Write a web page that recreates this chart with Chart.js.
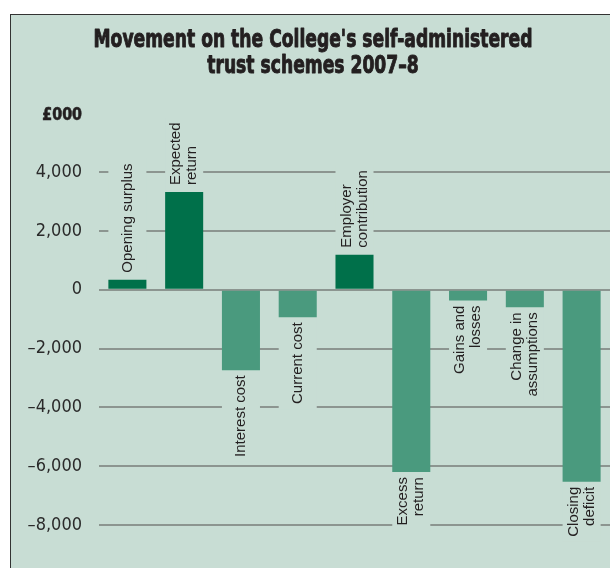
<!DOCTYPE html>
<html>
<head>
<meta charset="utf-8">
<title>Movement on the College's self-administered trust schemes 2007–8</title>
<script src="https://cdn.jsdelivr.net/npm/chart.js@4.4.1/dist/chart.umd.min.js"></script>
<style>
  html, body { margin: 0; padding: 0; background: #fff; overflow: hidden; }
  #panel {
    position: absolute; left: 10px; top: 14px;
    width: 640px; height: 600px;
    background: #c8ddd4; border: 1px solid #333;
  }
  #chartWrap { position: absolute; left: 0; top: 0; width: 610px; height: 568px; }
</style>
</head>
<body>
<div id="panel"></div>
<div id="chartWrap"><canvas id="movementChart"></canvas></div>

<script>
// Chart data (£000)
const categories = [
  'Opening surplus',
  'Expected\nreturn',
  'Interest cost',
  'Current cost',
  'Employer\ncontribution',
  'Excess\nreturn',
  'Gains and\nlosses',
  'Change in\nassumptions',
  'Closing\ndeficit'
];
const movementValues = [340, 3320, -2740, -940, 1190, -6200, -370, -600, -6530];
const tickValues = [-8000, -6000, -4000, -2000, 0, 2000, 4000];

const titleLines = ["Movement on the College's self-administered", 'trust schemes 2007–8'];
const unitLabel = '£000';

const PANEL_BG = '#c8ddd4';
const POSITIVE = '#00704a';
const NEGATIVE = '#4a9a7e';
const CONDENSED = '"DejaVu Sans Condensed", "Liberation Sans Narrow", sans-serif';

function formatTick(v) {
  const s = Math.abs(v).toLocaleString('en-GB');
  return v < 0 ? '\u2013' + s : s;
}

// Title and unit label, drawn in a heavy condensed face
const headingPlugin = {
  id: 'heading',
  afterDraw(chart) {
    const ctx = chart.ctx;
    ctx.save();
    ctx.fillStyle = '#231f20';
    ctx.strokeStyle = '#231f20';
    ctx.lineJoin = 'round';
    ctx.font = 'bold 24px ' + CONDENSED;
    const w = ctx.measureText(titleLines[0]).width;
    const sx = 439 / w;
    ctx.textAlign = 'center';
    ctx.textBaseline = 'alphabetic';
    titleLines.forEach((line, i) => {
      ctx.save();
      ctx.translate(313, 47 + i * 26);
      ctx.scale(sx, 1.05);
      ctx.lineWidth = 0.9;
      ctx.strokeText(line, 0, 0);
      ctx.fillText(line, 0, 0);
      ctx.restore();
    });
    ctx.font = 'bold 18px ' + CONDENSED;
    ctx.textAlign = 'right';
    ctx.save();
    ctx.translate(82, 120);
    ctx.scale(0.88, 1);
    ctx.lineWidth = 0.6;
    ctx.strokeText(unitLabel, 0, 0);
    ctx.fillText(unitLabel, 0, 0);
    ctx.restore();
    ctx.restore();
  }
};

// Rotated category labels at the end of each bar, knocking out the grid behind them
const barLabelPlugin = {
  id: 'barLabels',
  beforeDatasetsDraw(chart) {
    this.drawLabels(chart, true);
  },
  afterDatasetsDraw(chart) {
    this.drawLabels(chart, false);
  },
  drawLabels(chart, backgroundOnly) {
    const ctx = chart.ctx;
    const meta = chart.getDatasetMeta(0);
    const lineHeight = 16;
    ctx.save();
    ctx.font = '15px "Liberation Sans", Arial, sans-serif';
    meta.data.forEach((bar, i) => {
      const lines = categories[i].split('\n');
      const value = movementValues[i];
      const textLen = Math.max(...lines.map(l => ctx.measureText(l).width));
      const up = value >= 0;
      const gap = up ? 7 : 5;
      const anchorY = up ? bar.y - gap : bar.y + gap;
      if (backgroundOnly) {
        const pad = 5;
        const top = up ? anchorY - textLen - pad : anchorY - pad;
        ctx.fillStyle = PANEL_BG;
        ctx.fillRect(bar.x - bar.width / 2, top, bar.width, textLen + pad * 2);
        return;
      }
      ctx.save();
      ctx.translate(bar.x, anchorY);
      ctx.rotate(-Math.PI / 2);
      ctx.fillStyle = '#231f20';
      ctx.textAlign = up ? 'left' : 'right';
      ctx.textBaseline = 'middle';
      lines.forEach((line, k) => {
        ctx.fillText(line, 0, (k - (lines.length - 1) / 2) * lineHeight);
      });
      ctx.restore();
    });
    ctx.restore();
  }
};

function initializeMovementChart() {
  const ctx = document.getElementById('movementChart');
  if (!ctx) return;

  new Chart(ctx, {
    type: 'bar',
    data: {
      labels: categories,
      datasets: [{
        data: movementValues,
        backgroundColor: movementValues.map(v => (v >= 0 ? POSITIVE : NEGATIVE)),
        borderWidth: 0,
        barPercentage: 0.67,
        categoryPercentage: 1
      }]
    },
    options: {
      responsive: true,
      maintainAspectRatio: false,
      animation: false,
      layout: {
        padding: { top: 142.6, bottom: 13.6, left: 0, right: 0 }
      },
      plugins: {
        legend: { display: false },
        tooltip: { enabled: false }
      },
      scales: {
        x: {
          display: false
        },
        y: {
          min: -9000,
          max: 5000,
          afterBuildTicks: scale => {
            scale.ticks = tickValues.map(v => ({ value: v }));
          },
          afterFit: scale => {
            scale.width = 99;
            scale.paddingTop = 0;
            scale.paddingBottom = 0;
          },
          border: { display: false },
          grid: {
            color: '#8c9590',
            lineWidth: 2,
            drawTicks: false
          },
          ticks: {
            padding: 17,
            color: '#2a2a2a',
            font: { family: CONDENSED, size: 18 },
            callback: v => formatTick(v)
          }
        }
      }
    },
    plugins: [barLabelPlugin, headingPlugin]
  });
}

document.addEventListener('DOMContentLoaded', () => {
  initializeMovementChart();
});
</script>
</body>
</html>
